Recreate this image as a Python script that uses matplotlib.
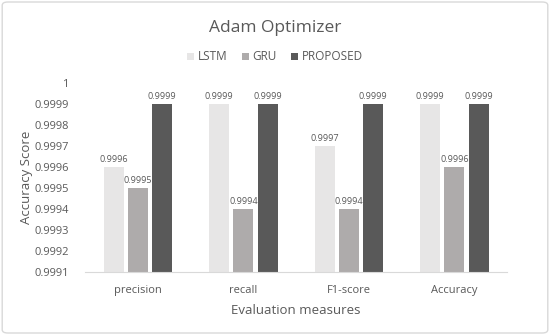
import numpy as np
import matplotlib
matplotlib.use("Agg")
import matplotlib.pyplot as plt
from matplotlib.patches import FancyBboxPatch

plt.rcParams["font.family"] = ["Open Sans", "DejaVu Sans"]

# data
categories = ["precision", "recall", "F1-score", "Accuracy"]
series_names = ["LSTM", "GRU", "PROPOSED"]
lstm = [0.9996, 0.9999, 0.9997, 0.9999]
gru = [0.9995, 0.9994, 0.9994, 0.9996]
proposed = [0.9999, 0.9999, 0.9999, 0.9999]
y_ticks = [0.9991, 0.9992, 0.9993, 0.9994, 0.9995, 0.9996, 0.9997, 0.9998, 0.9999, 1.0]
y_tick_labels = ["0.9991", "0.9992", "0.9993", "0.9994", "0.9995",
                 "0.9996", "0.9997", "0.9998", "0.9999", "1"]

colors = ["#E7E6E6", "#AEABAB", "#595959"]
text_color = "#595959"

fig = plt.figure(figsize=(5.5, 3.35), dpi=100)
border = FancyBboxPatch((0.004, 0.006), 0.992, 0.988, boxstyle="round,pad=0,rounding_size=0.01",
                       transform=fig.transFigure, facecolor="none", edgecolor="#D9D9D9",
                       linewidth=1, zorder=-1)
fig.patches.append(border)

ax = fig.add_axes([0.155, 0.188, 0.767, 0.564])
ax.patch.set_alpha(0)
x = np.arange(len(categories))
width = 0.19
gap = 0.04
all_series = [lstm, gru, proposed]
for i, (name, vals) in enumerate(zip(series_names, all_series)):
    pos = x + (i - 1) * (width + gap)
    bars = ax.bar(pos, vals, width, color=colors[i], label=name)
    for b, v in zip(bars, vals):
        ax.text(b.get_x() + b.get_width() / 2, v + 0.000014, f"{v:.4f}",
                ha="center", va="bottom", fontsize=6.5, color=text_color)

ax.set_ylim(0.9991, 1.0)
ax.set_xlim(-0.5, len(categories) - 0.5)
ax.set_yticks(y_ticks)
ax.set_yticklabels(y_tick_labels)
ax.set_xticks(x)
ax.set_xticklabels(categories)
ax.tick_params(axis="both", length=0, labelsize=8, colors=text_color)
ax.tick_params(axis="y", pad=12)
ax.tick_params(axis="x", pad=9)
for side in ["top", "right", "left"]:
    ax.spines[side].set_visible(False)
ax.spines["bottom"].set_color("#D9D9D9")

ax.set_xlabel("Evaluation measures", fontsize=9.5, color=text_color, labelpad=6)
ax.set_ylabel("Accuracy Score", fontsize=9.5, color=text_color, labelpad=1)

fig.text(0.5, 0.915, "Adam Optimizer", ha="center", va="center", fontsize=12.5, color=text_color)
fig.legend(loc="center", bbox_to_anchor=(0.5, 0.83), ncol=3, frameon=False,
           fontsize=8.5, handlelength=0.6, handleheight=0.6, handletextpad=0.3,
           columnspacing=1.2, labelcolor=text_color)

fig.savefig("out.png", dpi=100)
